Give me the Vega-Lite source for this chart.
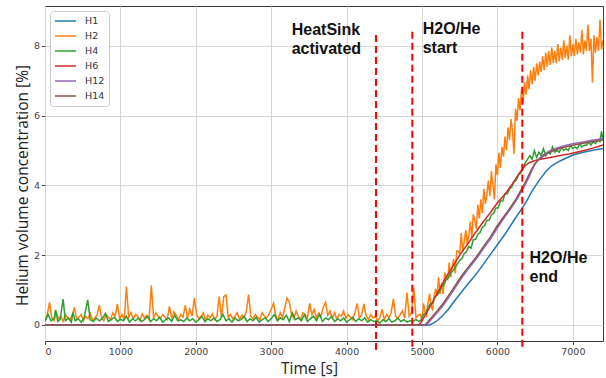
{
"$schema": "https://vega.github.io/schema/vega-lite/v6.json",
"width": 558, "height": 335,
"autosize": {"type": "none"},
"padding": {"left": 45, "top": 6, "right": 3, "bottom": 37},
"background": "white",
"config": {
 "view": {"stroke": "#3a3a3a", "strokeWidth": 1},
 "axis": {"grid": true, "gridColor": "#d6d6d6", "gridWidth": 1, "domain": false, "tickColor": "#444", "tickSize": 3.5, "labelFont": "DejaVu Sans", "labelFontSize": 9.5, "labelColor": "#444", "titleFont": "Open Sans", "titleFontSize": 15.5, "titleFontWeight": "normal", "titleColor": "#222"},
 "legend": {"orient": "none", "legendX": 5, "legendY": 5, "title": null, "symbolType": "stroke", "symbolSize": 441, "symbolStrokeWidth": 1.6, "labelFont": "DejaVu Sans", "labelFontSize": 9.5, "labelColor": "#333", "labelOffset": 8, "clipHeight": 12, "rowPadding": 3, "padding": 4, "strokeColor": "#cccccc", "fillColor": "rgba(255,255,255,0.85)", "cornerRadius": 3}
},
"datasets": {
"series": [
{"s":"H1","t":0,"v":0},{"s":"H1","t":5100,"v":0},{"s":"H1","t":5150,"v":0.05},{"s":"H1","t":5200,"v":0.12},{"s":"H1","t":5275,"v":0.27},{"s":"H1","t":5350,"v":0.45},{"s":"H1","t":5400,"v":0.6},{"s":"H1","t":5500,"v":0.88},{"s":"H1","t":5600,"v":1.15},{"s":"H1","t":5717,"v":1.45},{"s":"H1","t":5800,"v":1.7},{"s":"H1","t":5900,"v":2.0},{"s":"H1","t":6000,"v":2.3},{"s":"H1","t":6100,"v":2.6},{"s":"H1","t":6160,"v":2.8},{"s":"H1","t":6250,"v":3.1},{"s":"H1","t":6320,"v":3.32},{"s":"H1","t":6380,"v":3.52},{"s":"H1","t":6450,"v":3.8},{"s":"H1","t":6500,"v":3.97},{"s":"H1","t":6556,"v":4.15},{"s":"H1","t":6650,"v":4.42},{"s":"H1","t":6720,"v":4.56},{"s":"H1","t":6777,"v":4.64},{"s":"H1","t":6850,"v":4.72},{"s":"H1","t":6900,"v":4.77},{"s":"H1","t":7000,"v":4.87},{"s":"H1","t":7100,"v":4.93},{"s":"H1","t":7200,"v":4.98},{"s":"H1","t":7300,"v":5.02},{"s":"H1","t":7400,"v":5.06},

{"s":"H2","t":0,"v":0.15},{"s":"H2","t":30,"v":0.3},{"s":"H2","t":60,"v":0.65},{"s":"H2","t":90,"v":0.2},{"s":"H2","t":120,"v":0.12},{"s":"H2","t":150,"v":0.35},{"s":"H2","t":180,"v":0.18},{"s":"H2","t":210,"v":0.25},{"s":"H2","t":240,"v":0.1},{"s":"H2","t":270,"v":0.3},{"s":"H2","t":300,"v":0.2},{"s":"H2","t":330,"v":0.15},{"s":"H2","t":360,"v":0.28},{"s":"H2","t":390,"v":0.5},{"s":"H2","t":420,"v":0.15},{"s":"H2","t":450,"v":0.22},{"s":"H2","t":480,"v":0.3},{"s":"H2","t":510,"v":0.12},{"s":"H2","t":540,"v":0.25},{"s":"H2","t":570,"v":0.18},{"s":"H2","t":600,"v":0.33},{"s":"H2","t":630,"v":0.15},{"s":"H2","t":660,"v":0.2},{"s":"H2","t":690,"v":0.28},{"s":"H2","t":720,"v":0.57},{"s":"H2","t":750,"v":0.2},{"s":"H2","t":780,"v":0.12},{"s":"H2","t":810,"v":0.3},{"s":"H2","t":840,"v":0.22},{"s":"H2","t":870,"v":0.15},{"s":"H2","t":900,"v":0.35},{"s":"H2","t":930,"v":0.25},{"s":"H2","t":960,"v":0.6},{"s":"H2","t":990,"v":0.18},{"s":"H2","t":1020,"v":0.3},{"s":"H2","t":1050,"v":0.15},{"s":"H2","t":1080,"v":1.1},{"s":"H2","t":1110,"v":0.22},{"s":"H2","t":1140,"v":0.35},{"s":"H2","t":1170,"v":0.18},{"s":"H2","t":1200,"v":0.3},{"s":"H2","t":1230,"v":0.25},{"s":"H2","t":1260,"v":0.12},{"s":"H2","t":1290,"v":0.32},{"s":"H2","t":1320,"v":0.2},{"s":"H2","t":1350,"v":0.28},{"s":"H2","t":1380,"v":0.15},{"s":"H2","t":1410,"v":1.13},{"s":"H2","t":1440,"v":0.2},{"s":"H2","t":1470,"v":0.35},{"s":"H2","t":1500,"v":0.25},{"s":"H2","t":1530,"v":0.18},{"s":"H2","t":1560,"v":0.3},{"s":"H2","t":1590,"v":0.22},{"s":"H2","t":1620,"v":0.15},{"s":"H2","t":1650,"v":0.53},{"s":"H2","t":1680,"v":0.2},{"s":"H2","t":1710,"v":0.38},{"s":"H2","t":1740,"v":0.28},{"s":"H2","t":1770,"v":0.15},{"s":"H2","t":1800,"v":0.3},{"s":"H2","t":1830,"v":0.22},{"s":"H2","t":1860,"v":0.56},{"s":"H2","t":1890,"v":0.2},{"s":"H2","t":1920,"v":0.45},{"s":"H2","t":1950,"v":0.25},{"s":"H2","t":1980,"v":0.77},{"s":"H2","t":2010,"v":0.3},{"s":"H2","t":2040,"v":0.18},{"s":"H2","t":2070,"v":0.25},{"s":"H2","t":2100,"v":0.35},{"s":"H2","t":2130,"v":0.12},{"s":"H2","t":2160,"v":0.28},{"s":"H2","t":2190,"v":0.2},{"s":"H2","t":2220,"v":0.32},{"s":"H2","t":2250,"v":0.15},{"s":"H2","t":2280,"v":0.25},{"s":"H2","t":2310,"v":0.81},{"s":"H2","t":2340,"v":0.2},{"s":"H2","t":2370,"v":0.81},{"s":"H2","t":2400,"v":0.86},{"s":"H2","t":2430,"v":0.22},{"s":"H2","t":2460,"v":0.3},{"s":"H2","t":2490,"v":0.18},{"s":"H2","t":2520,"v":0.25},{"s":"H2","t":2550,"v":0.35},{"s":"H2","t":2580,"v":0.15},{"s":"H2","t":2610,"v":0.28},{"s":"H2","t":2640,"v":0.2},{"s":"H2","t":2670,"v":0.4},{"s":"H2","t":2700,"v":0.87},{"s":"H2","t":2730,"v":0.25},{"s":"H2","t":2760,"v":0.18},{"s":"H2","t":2790,"v":0.3},{"s":"H2","t":2820,"v":0.22},{"s":"H2","t":2850,"v":0.15},{"s":"H2","t":2880,"v":0.35},{"s":"H2","t":2910,"v":0.25},{"s":"H2","t":2940,"v":0.2},{"s":"H2","t":2970,"v":0.3},{"s":"H2","t":3000,"v":0.45},{"s":"H2","t":3030,"v":0.62},{"s":"H2","t":3060,"v":0.28},{"s":"H2","t":3090,"v":0.15},{"s":"H2","t":3120,"v":0.35},{"s":"H2","t":3150,"v":0.2},{"s":"H2","t":3180,"v":0.5},{"s":"H2","t":3210,"v":0.77},{"s":"H2","t":3240,"v":0.65},{"s":"H2","t":3270,"v":0.3},{"s":"H2","t":3300,"v":0.18},{"s":"H2","t":3330,"v":0.4},{"s":"H2","t":3360,"v":0.25},{"s":"H2","t":3390,"v":0.15},{"s":"H2","t":3420,"v":0.35},{"s":"H2","t":3450,"v":0.3},{"s":"H2","t":3480,"v":0.2},{"s":"H2","t":3510,"v":0.62},{"s":"H2","t":3540,"v":0.3},{"s":"H2","t":3570,"v":0.45},{"s":"H2","t":3600,"v":0.2},{"s":"H2","t":3630,"v":0.35},{"s":"H2","t":3660,"v":0.25},{"s":"H2","t":3690,"v":0.5},{"s":"H2","t":3720,"v":0.65},{"s":"H2","t":3750,"v":0.28},{"s":"H2","t":3780,"v":0.4},{"s":"H2","t":3810,"v":0.2},{"s":"H2","t":3840,"v":0.35},{"s":"H2","t":3870,"v":0.15},{"s":"H2","t":3900,"v":0.3},{"s":"H2","t":3930,"v":0.25},{"s":"H2","t":3960,"v":0.4},{"s":"H2","t":3990,"v":0.18},{"s":"H2","t":4020,"v":0.3},{"s":"H2","t":4050,"v":0.22},{"s":"H2","t":4080,"v":0.15},{"s":"H2","t":4110,"v":0.35},{"s":"H2","t":4140,"v":0.62},{"s":"H2","t":4170,"v":0.2},{"s":"H2","t":4200,"v":0.3},{"s":"H2","t":4230,"v":0.6},{"s":"H2","t":4260,"v":0.25},{"s":"H2","t":4290,"v":0.15},{"s":"H2","t":4320,"v":0.3},{"s":"H2","t":4350,"v":0.2},{"s":"H2","t":4380,"v":0.25},{"s":"H2","t":4410,"v":0.12},{"s":"H2","t":4440,"v":0.2},{"s":"H2","t":4470,"v":0.45},{"s":"H2","t":4500,"v":0.15},{"s":"H2","t":4530,"v":0.3},{"s":"H2","t":4560,"v":0.2},{"s":"H2","t":4590,"v":0.35},{"s":"H2","t":4620,"v":0.75},{"s":"H2","t":4650,"v":0.25},{"s":"H2","t":4680,"v":0.18},{"s":"H2","t":4710,"v":0.3},{"s":"H2","t":4740,"v":0.4},{"s":"H2","t":4770,"v":0.2},{"s":"H2","t":4800,"v":0.93},{"s":"H2","t":4830,"v":0.25},{"s":"H2","t":4860,"v":0.35},{"s":"H2","t":4890,"v":1.07},{"s":"H2","t":4920,"v":0.2},{"s":"H2","t":4950,"v":0.28},
{"s":"H2","t":4980,"v":0.3},{"s":"H2","t":5000,"v":0.11},{"s":"H2","t":5020,"v":0.62},{"s":"H2","t":5040,"v":0.38},{"s":"H2","t":5060,"v":0.23},{"s":"H2","t":5080,"v":0.64},{"s":"H2","t":5100,"v":0.9},{"s":"H2","t":5120,"v":0.52},{"s":"H2","t":5140,"v":0.44},{"s":"H2","t":5160,"v":0.81},{"s":"H2","t":5180,"v":1.03},{"s":"H2","t":5200,"v":0.85},{"s":"H2","t":5220,"v":1.37},{"s":"H2","t":5240,"v":0.89},{"s":"H2","t":5260,"v":1.21},{"s":"H2","t":5280,"v":0.88},{"s":"H2","t":5300,"v":1.5},{"s":"H2","t":5320,"v":1.38},{"s":"H2","t":5340,"v":1.31},{"s":"H2","t":5360,"v":1.79},{"s":"H2","t":5380,"v":1.37},{"s":"H2","t":5400,"v":1.65},{"s":"H2","t":5420,"v":1.89},{"s":"H2","t":5440,"v":1.48},{"s":"H2","t":5460,"v":2.12},{"s":"H2","t":5480,"v":2.11},{"s":"H2","t":5500,"v":2.05},{"s":"H2","t":5520,"v":2.63},{"s":"H2","t":5540,"v":2.11},{"s":"H2","t":5560,"v":2.39},{"s":"H2","t":5580,"v":2.72},{"s":"H2","t":5600,"v":2.3},{"s":"H2","t":5620,"v":2.58},{"s":"H2","t":5640,"v":2.96},{"s":"H2","t":5660,"v":2.5},{"s":"H2","t":5680,"v":3.17},{"s":"H2","t":5700,"v":3.0},{"s":"H2","t":5720,"v":2.75},{"s":"H2","t":5740,"v":3.45},{"s":"H2","t":5760,"v":3.05},{"s":"H2","t":5780,"v":3.6},{"s":"H2","t":5800,"v":3.2},{"s":"H2","t":5820,"v":3.9},{"s":"H2","t":5840,"v":3.47},{"s":"H2","t":5860,"v":3.73},{"s":"H2","t":5880,"v":4.14},{"s":"H2","t":5900,"v":3.7},{"s":"H2","t":5920,"v":4.4},{"s":"H2","t":5940,"v":4.0},{"s":"H2","t":5960,"v":3.6},{"s":"H2","t":5980,"v":4.6},{"s":"H2","t":6000,"v":4.3},{"s":"H2","t":6020,"v":4.93},{"s":"H2","t":6040,"v":4.5},{"s":"H2","t":6060,"v":5.1},{"s":"H2","t":6080,"v":4.82},{"s":"H2","t":6100,"v":5.4},{"s":"H2","t":6120,"v":5.0},{"s":"H2","t":6140,"v":5.66},{"s":"H2","t":6160,"v":5.3},{"s":"H2","t":6180,"v":5.9},{"s":"H2","t":6200,"v":5.55},{"s":"H2","t":6220,"v":4.9},{"s":"H2","t":6240,"v":6.2},{"s":"H2","t":6260,"v":5.85},{"s":"H2","t":6280,"v":6.5},{"s":"H2","t":6300,"v":6.15},{"s":"H2","t":6320,"v":6.75},{"s":"H2","t":6340,"v":6.35},{"s":"H2","t":6360,"v":6.95},{"s":"H2","t":6380,"v":6.6},{"s":"H2","t":6400,"v":7.15},{"s":"H2","t":6420,"v":6.75},{"s":"H2","t":6440,"v":7.3},{"s":"H2","t":6460,"v":6.9},{"s":"H2","t":6480,"v":7.4},{"s":"H2","t":6500,"v":7.0},{"s":"H2","t":6520,"v":7.5},{"s":"H2","t":6540,"v":7.15},{"s":"H2","t":6560,"v":7.55},{"s":"H2","t":6580,"v":7.25},{"s":"H2","t":6600,"v":7.7},{"s":"H2","t":6620,"v":7.3},{"s":"H2","t":6640,"v":7.8},{"s":"H2","t":6660,"v":7.4},{"s":"H2","t":6680,"v":7.85},{"s":"H2","t":6700,"v":7.45},{"s":"H2","t":6720,"v":7.95},{"s":"H2","t":6740,"v":7.5},{"s":"H2","t":6760,"v":7.85},{"s":"H2","t":6780,"v":7.5},{"s":"H2","t":6800,"v":8.05},{"s":"H2","t":6820,"v":7.55},{"s":"H2","t":6840,"v":7.95},{"s":"H2","t":6860,"v":7.6},{"s":"H2","t":6880,"v":8.15},{"s":"H2","t":6900,"v":7.65},{"s":"H2","t":6920,"v":8.0},{"s":"H2","t":6940,"v":7.6},{"s":"H2","t":6960,"v":8.3},{"s":"H2","t":6980,"v":7.7},{"s":"H2","t":7000,"v":8.05},{"s":"H2","t":7020,"v":7.7},{"s":"H2","t":7040,"v":8.2},{"s":"H2","t":7060,"v":7.75},{"s":"H2","t":7080,"v":8.1},{"s":"H2","t":7100,"v":7.8},{"s":"H2","t":7120,"v":8.45},{"s":"H2","t":7140,"v":7.75},{"s":"H2","t":7160,"v":8.15},{"s":"H2","t":7180,"v":7.85},{"s":"H2","t":7200,"v":8.6},{"s":"H2","t":7220,"v":7.85},{"s":"H2","t":7240,"v":8.2},{"s":"H2","t":7260,"v":6.95},{"s":"H2","t":7280,"v":8.3},{"s":"H2","t":7300,"v":7.8},{"s":"H2","t":7320,"v":8.25},{"s":"H2","t":7340,"v":7.85},{"s":"H2","t":7360,"v":8.75},{"s":"H2","t":7380,"v":7.9},{"s":"H2","t":7400,"v":8.15},

{"s":"H4","t":0,"v":0.1},{"s":"H4","t":40,"v":0.31},{"s":"H4","t":80,"v":0.12},{"s":"H4","t":120,"v":0.18},{"s":"H4","t":140,"v":0.43},{"s":"H4","t":170,"v":0.1},{"s":"H4","t":200,"v":0.15},{"s":"H4","t":240,"v":0.74},{"s":"H4","t":270,"v":0.12},{"s":"H4","t":310,"v":0.2},{"s":"H4","t":350,"v":0.08},{"s":"H4","t":370,"v":0.36},{"s":"H4","t":400,"v":0.12},{"s":"H4","t":440,"v":0.18},{"s":"H4","t":480,"v":0.08},{"s":"H4","t":520,"v":0.22},{"s":"H4","t":545,"v":0.49},{"s":"H4","t":566,"v":0.72},{"s":"H4","t":600,"v":0.15},{"s":"H4","t":640,"v":0.1},{"s":"H4","t":680,"v":0.2},{"s":"H4","t":720,"v":0.12},{"s":"H4","t":760,"v":0.18},{"s":"H4","t":800,"v":0.33},{"s":"H4","t":840,"v":0.1},{"s":"H4","t":880,"v":0.15},{"s":"H4","t":920,"v":0.22},{"s":"H4","t":960,"v":0.1},{"s":"H4","t":1000,"v":0.16},{"s":"H4","t":1040,"v":0.12},{"s":"H4","t":1080,"v":0.25},{"s":"H4","t":1120,"v":0.08},{"s":"H4","t":1160,"v":0.18},{"s":"H4","t":1200,"v":0.12},{"s":"H4","t":1240,"v":0.2},{"s":"H4","t":1280,"v":0.1},{"s":"H4","t":1320,"v":0.15},{"s":"H4","t":1360,"v":0.25},{"s":"H4","t":1400,"v":0.1},{"s":"H4","t":1440,"v":0.18},{"s":"H4","t":1480,"v":0.12},{"s":"H4","t":1520,"v":0.22},{"s":"H4","t":1560,"v":0.08},{"s":"H4","t":1600,"v":0.15},{"s":"H4","t":1640,"v":0.2},{"s":"H4","t":1680,"v":0.1},{"s":"H4","t":1720,"v":0.28},{"s":"H4","t":1760,"v":0.12},{"s":"H4","t":1800,"v":0.15},{"s":"H4","t":1840,"v":0.1},{"s":"H4","t":1880,"v":0.2},{"s":"H4","t":1920,"v":0.12},{"s":"H4","t":1960,"v":0.18},{"s":"H4","t":2000,"v":0.08},{"s":"H4","t":2040,"v":0.15},{"s":"H4","t":2080,"v":0.25},{"s":"H4","t":2120,"v":0.1},{"s":"H4","t":2160,"v":0.18},{"s":"H4","t":2200,"v":0.12},{"s":"H4","t":2240,"v":0.2},{"s":"H4","t":2280,"v":0.1},{"s":"H4","t":2320,"v":0.15},{"s":"H4","t":2360,"v":0.3},{"s":"H4","t":2400,"v":0.12},{"s":"H4","t":2440,"v":0.18},{"s":"H4","t":2480,"v":0.08},{"s":"H4","t":2520,"v":0.2},{"s":"H4","t":2560,"v":0.12},{"s":"H4","t":2600,"v":0.15},{"s":"H4","t":2640,"v":0.25},{"s":"H4","t":2680,"v":0.1},{"s":"H4","t":2720,"v":0.18},{"s":"H4","t":2760,"v":0.12},{"s":"H4","t":2800,"v":0.22},{"s":"H4","t":2840,"v":0.08},{"s":"H4","t":2880,"v":0.15},{"s":"H4","t":2920,"v":0.2},{"s":"H4","t":2960,"v":0.1},{"s":"H4","t":3000,"v":0.18},{"s":"H4","t":3040,"v":0.3},{"s":"H4","t":3080,"v":0.12},{"s":"H4","t":3120,"v":0.2},{"s":"H4","t":3160,"v":0.15},{"s":"H4","t":3200,"v":0.28},{"s":"H4","t":3240,"v":0.1},{"s":"H4","t":3280,"v":0.35},{"s":"H4","t":3320,"v":0.15},{"s":"H4","t":3360,"v":0.2},{"s":"H4","t":3400,"v":0.12},{"s":"H4","t":3440,"v":0.3},{"s":"H4","t":3480,"v":0.1},{"s":"H4","t":3520,"v":0.18},{"s":"H4","t":3560,"v":0.25},{"s":"H4","t":3600,"v":0.12},{"s":"H4","t":3640,"v":0.3},{"s":"H4","t":3680,"v":0.1},{"s":"H4","t":3720,"v":0.2},{"s":"H4","t":3760,"v":0.15},{"s":"H4","t":3800,"v":0.25},{"s":"H4","t":3840,"v":0.1},{"s":"H4","t":3880,"v":0.18},{"s":"H4","t":3920,"v":0.12},{"s":"H4","t":3960,"v":0.2},{"s":"H4","t":4000,"v":0.08},{"s":"H4","t":4040,"v":0.15},{"s":"H4","t":4080,"v":0.22},{"s":"H4","t":4120,"v":0.1},{"s":"H4","t":4160,"v":0.18},{"s":"H4","t":4200,"v":0.12},{"s":"H4","t":4240,"v":0.2},{"s":"H4","t":4280,"v":0.08},{"s":"H4","t":4320,"v":0.15},{"s":"H4","t":4360,"v":0.1},{"s":"H4","t":4400,"v":0.12},{"s":"H4","t":4440,"v":0.05},{"s":"H4","t":4480,"v":0.15},{"s":"H4","t":4520,"v":0.1},{"s":"H4","t":4560,"v":0.18},{"s":"H4","t":4600,"v":0.08},{"s":"H4","t":4640,"v":0.12},{"s":"H4","t":4680,"v":0.2},{"s":"H4","t":4720,"v":0.1},{"s":"H4","t":4760,"v":0.15},{"s":"H4","t":4800,"v":0.08},{"s":"H4","t":4840,"v":0.12},{"s":"H4","t":4880,"v":0.1},{"s":"H4","t":4920,"v":0.15},{"s":"H4","t":4960,"v":0.1},
{"s":"H4","t":4990,"v":0.15},{"s":"H4","t":5020,"v":0.3},{"s":"H4","t":5050,"v":0.35},{"s":"H4","t":5080,"v":0.5},{"s":"H4","t":5110,"v":0.6},{"s":"H4","t":5140,"v":0.62},{"s":"H4","t":5170,"v":0.8},{"s":"H4","t":5200,"v":0.85},{"s":"H4","t":5230,"v":0.95},{"s":"H4","t":5260,"v":1.1},{"s":"H4","t":5290,"v":1.15},{"s":"H4","t":5320,"v":1.3},{"s":"H4","t":5350,"v":1.35},{"s":"H4","t":5380,"v":1.5},{"s":"H4","t":5410,"v":1.55},{"s":"H4","t":5440,"v":1.65},{"s":"H4","t":5470,"v":1.75},{"s":"H4","t":5500,"v":1.85},{"s":"H4","t":5530,"v":1.9},{"s":"H4","t":5560,"v":2.05},{"s":"H4","t":5590,"v":2.1},{"s":"H4","t":5620,"v":2.25},{"s":"H4","t":5650,"v":2.2},{"s":"H4","t":5680,"v":2.45},{"s":"H4","t":5710,"v":2.45},{"s":"H4","t":5740,"v":2.6},{"s":"H4","t":5770,"v":2.65},{"s":"H4","t":5800,"v":2.8},{"s":"H4","t":5830,"v":2.85},{"s":"H4","t":5860,"v":3.0},{"s":"H4","t":5890,"v":3.0},{"s":"H4","t":5920,"v":3.15},{"s":"H4","t":5950,"v":3.2},{"s":"H4","t":5980,"v":3.35},{"s":"H4","t":6010,"v":3.35},{"s":"H4","t":6040,"v":3.55},{"s":"H4","t":6070,"v":3.55},{"s":"H4","t":6100,"v":3.75},{"s":"H4","t":6130,"v":3.75},{"s":"H4","t":6160,"v":3.9},{"s":"H4","t":6190,"v":3.95},{"s":"H4","t":6220,"v":4.1},{"s":"H4","t":6250,"v":4.15},{"s":"H4","t":6280,"v":4.3},{"s":"H4","t":6310,"v":4.35},{"s":"H4","t":6340,"v":4.5},{"s":"H4","t":6370,"v":4.65},{"s":"H4","t":6400,"v":4.75},{"s":"H4","t":6430,"v":4.85},{"s":"H4","t":6460,"v":4.75},{"s":"H4","t":6490,"v":5.0},{"s":"H4","t":6520,"v":4.8},{"s":"H4","t":6550,"v":4.95},{"s":"H4","t":6580,"v":4.85},{"s":"H4","t":6610,"v":5.05},{"s":"H4","t":6640,"v":4.85},{"s":"H4","t":6670,"v":4.95},{"s":"H4","t":6700,"v":4.9},{"s":"H4","t":6730,"v":5.1},{"s":"H4","t":6760,"v":4.95},{"s":"H4","t":6790,"v":5.0},{"s":"H4","t":6820,"v":4.95},{"s":"H4","t":6850,"v":5.1},{"s":"H4","t":6880,"v":5.0},{"s":"H4","t":6910,"v":5.05},{"s":"H4","t":6940,"v":5.0},{"s":"H4","t":6970,"v":5.15},{"s":"H4","t":7000,"v":5.05},{"s":"H4","t":7030,"v":5.1},{"s":"H4","t":7060,"v":5.05},{"s":"H4","t":7090,"v":5.2},{"s":"H4","t":7120,"v":5.1},{"s":"H4","t":7150,"v":5.15},{"s":"H4","t":7180,"v":5.15},{"s":"H4","t":7210,"v":5.25},{"s":"H4","t":7240,"v":5.15},{"s":"H4","t":7270,"v":5.25},{"s":"H4","t":7300,"v":5.2},{"s":"H4","t":7330,"v":5.3},{"s":"H4","t":7360,"v":5.25},{"s":"H4","t":7380,"v":5.55},{"s":"H4","t":7400,"v":5.3},

{"s":"H6","t":0,"v":0},{"s":"H6","t":4960,"v":0},{"s":"H6","t":5000,"v":0.12},{"s":"H6","t":5100,"v":0.5},{"s":"H6","t":5200,"v":0.9},{"s":"H6","t":5300,"v":1.3},{"s":"H6","t":5400,"v":1.65},{"s":"H6","t":5500,"v":2.0},{"s":"H6","t":5600,"v":2.3},{"s":"H6","t":5700,"v":2.62},{"s":"H6","t":5800,"v":2.92},{"s":"H6","t":5900,"v":3.2},{"s":"H6","t":6000,"v":3.5},{"s":"H6","t":6100,"v":3.75},{"s":"H6","t":6200,"v":4.05},{"s":"H6","t":6300,"v":4.38},{"s":"H6","t":6360,"v":4.55},{"s":"H6","t":6420,"v":4.65},{"s":"H6","t":6480,"v":4.7},{"s":"H6","t":6550,"v":4.74},{"s":"H6","t":6650,"v":4.78},{"s":"H6","t":6750,"v":4.82},{"s":"H6","t":6850,"v":4.86},{"s":"H6","t":6950,"v":4.9},{"s":"H6","t":7050,"v":4.95},{"s":"H6","t":7150,"v":5.0},{"s":"H6","t":7250,"v":5.06},{"s":"H6","t":7350,"v":5.12},{"s":"H6","t":7400,"v":5.16},

{"s":"H12","t":0,"v":0},{"s":"H12","t":5060,"v":0},{"s":"H12","t":5120,"v":0.15},{"s":"H12","t":5220,"v":0.4},{"s":"H12","t":5295,"v":0.6},{"s":"H12","t":5420,"v":1.0},{"s":"H12","t":5520,"v":1.33},{"s":"H12","t":5620,"v":1.62},{"s":"H12","t":5735,"v":1.94},{"s":"H12","t":5820,"v":2.2},{"s":"H12","t":5920,"v":2.5},{"s":"H12","t":6020,"v":2.85},{"s":"H12","t":6115,"v":3.15},{"s":"H12","t":6175,"v":3.33},{"s":"H12","t":6265,"v":3.62},{"s":"H12","t":6330,"v":3.88},{"s":"H12","t":6375,"v":4.05},{"s":"H12","t":6415,"v":4.22},{"s":"H12","t":6455,"v":4.42},{"s":"H12","t":6495,"v":4.6},{"s":"H12","t":6540,"v":4.74},{"s":"H12","t":6600,"v":4.86},{"s":"H12","t":6690,"v":4.99},{"s":"H12","t":6800,"v":5.08},{"s":"H12","t":6900,"v":5.14},{"s":"H12","t":7000,"v":5.19},{"s":"H12","t":7100,"v":5.23},{"s":"H12","t":7200,"v":5.27},{"s":"H12","t":7300,"v":5.31},{"s":"H12","t":7400,"v":5.34},

{"s":"H14","t":0,"v":0},{"s":"H14","t":5040,"v":0},{"s":"H14","t":5100,"v":0.15},{"s":"H14","t":5200,"v":0.4},{"s":"H14","t":5275,"v":0.6},{"s":"H14","t":5400,"v":1.0},{"s":"H14","t":5500,"v":1.33},{"s":"H14","t":5600,"v":1.62},{"s":"H14","t":5717,"v":1.94},{"s":"H14","t":5800,"v":2.2},{"s":"H14","t":5900,"v":2.5},{"s":"H14","t":6000,"v":2.85},{"s":"H14","t":6100,"v":3.15},{"s":"H14","t":6160,"v":3.33},{"s":"H14","t":6250,"v":3.62},{"s":"H14","t":6315,"v":3.88},{"s":"H14","t":6360,"v":4.05},{"s":"H14","t":6400,"v":4.22},{"s":"H14","t":6440,"v":4.4},{"s":"H14","t":6480,"v":4.57},{"s":"H14","t":6530,"v":4.7},{"s":"H14","t":6600,"v":4.82},{"s":"H14","t":6690,"v":4.95},{"s":"H14","t":6800,"v":5.04},{"s":"H14","t":6900,"v":5.1},{"s":"H14","t":7000,"v":5.15},{"s":"H14","t":7100,"v":5.19},{"s":"H14","t":7200,"v":5.23},{"s":"H14","t":7300,"v":5.27},{"s":"H14","t":7400,"v":5.3}
],
"rules": [
{"t":4390,"v":8.31,"v2":-0.79},{"t":4871,"v":8.4,"v2":-0.74},{"t":6330,"v":8.4,"v2":-0.7}
],
"notes": [
{"t":3272,"v":8.31,"label":"HeatSink\nactivated"},{"t":5009,"v":8.35,"label":"H2O/He\nstart"},{"t":6426,"v":1.785,"label":"H2O/He\nend"}
]
},
"layer": [
{"data": {"name": "series"}, "transform": [{"filter": "datum.s === 'H1'"}], "mark": {"type": "line", "strokeWidth": 1.5, "clip": true},
 "encoding": {"x": {"field": "t", "type": "quantitative", "scale": {"domain": [0, 7400], "nice": false, "zero": false}, "axis": {"values": [0,1000,2000,3000,4000,5000,6000,7000], "format": "d", "title": "Time [s]", "titleX": 264, "titleY": 27, "titleBaseline": "middle", "titleAnchor": null}},
  "y": {"field": "v", "type": "quantitative", "scale": {"domain": [-0.46, 9.14], "nice": false, "zero": false}, "axis": {"values": [0,2,4,6,8], "format": "d", "title": "Helium volume concentration [%]", "titleX": -23, "titleY": 179, "titleBaseline": "middle", "titleAngle": -90}},
  "color": {"field": "s", "type": "nominal", "scale": {"domain": ["H1","H2","H4","H6","H12","H14"], "range": ["#1f77b4","#ff7f0e","#2ca02c","#d62728","#9467bd","#8c564b"]}}}},
{"data": {"name": "series"}, "transform": [{"filter": "datum.s === 'H2'"}], "mark": {"type": "line", "strokeWidth": 1.5, "clip": true},
 "encoding": {"x": {"field": "t", "type": "quantitative"}, "y": {"field": "v", "type": "quantitative"}, "color": {"field": "s", "type": "nominal"}}},
{"data": {"name": "series"}, "transform": [{"filter": "datum.s === 'H4'"}], "mark": {"type": "line", "strokeWidth": 1.5, "clip": true},
 "encoding": {"x": {"field": "t", "type": "quantitative"}, "y": {"field": "v", "type": "quantitative"}, "color": {"field": "s", "type": "nominal"}}},
{"data": {"name": "series"}, "transform": [{"filter": "datum.s === 'H6'"}], "mark": {"type": "line", "strokeWidth": 1.5, "clip": true},
 "encoding": {"x": {"field": "t", "type": "quantitative"}, "y": {"field": "v", "type": "quantitative"}, "color": {"field": "s", "type": "nominal"}}},
{"data": {"name": "series"}, "transform": [{"filter": "datum.s === 'H12'"}], "mark": {"type": "line", "strokeWidth": 1.5, "clip": true},
 "encoding": {"x": {"field": "t", "type": "quantitative"}, "y": {"field": "v", "type": "quantitative"}, "color": {"field": "s", "type": "nominal"}}},
{"data": {"name": "series"}, "transform": [{"filter": "datum.s === 'H14'"}], "mark": {"type": "line", "strokeWidth": 1.5, "clip": true},
 "encoding": {"x": {"field": "t", "type": "quantitative"}, "y": {"field": "v", "type": "quantitative"}, "color": {"field": "s", "type": "nominal"}}},
{"data": {"name": "rules"}, "mark": {"type": "rule", "color": "#ff0000", "strokeWidth": 2, "strokeDash": [7, 4], "clip": false},
 "encoding": {"x": {"field": "t", "type": "quantitative"}, "y": {"field": "v", "type": "quantitative"}, "y2": {"field": "v2"}}},
{"data": {"name": "notes"}, "mark": {"type": "text", "align": "left", "baseline": "alphabetic", "font": "Liberation Sans", "fontWeight": "bold", "fontSize": 16, "lineBreak": "\n", "lineHeight": 19, "color": "#111", "clip": false},
 "encoding": {"x": {"field": "t", "type": "quantitative"}, "y": {"field": "v", "type": "quantitative"}, "text": {"field": "label"}}}
]
}
